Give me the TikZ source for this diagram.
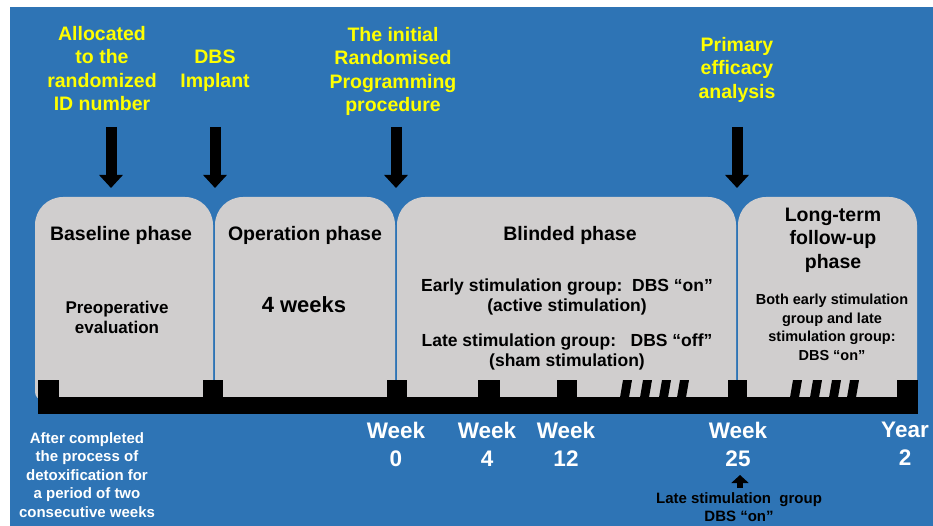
\documentclass[tikz,border=0pt]{standalone}
\usepackage{fontspec}
\setmainfont{Liberation Sans}
\usetikzlibrary{arrows.meta}
\definecolor{bgblue}{RGB}{46,116,181}
\definecolor{boxgray}{RGB}{208,206,206}
\definecolor{ylw}{RGB}{255,255,0}
\begin{document}
\begin{tikzpicture}[x=1pt,y=-1pt,
  ylwtext/.style={text=ylw, font=\fontsize{19.5}{23.5}\selectfont\bfseries, align=center, inner sep=0pt},
  titletext/.style={text=black, font=\fontsize{19.5}{23.5}\selectfont\bfseries, align=center, inner sep=0pt},
  bodytext/.style={text=black, font=\fontsize{17.5}{20}\selectfont\bfseries, align=center, inner sep=0pt},
  smalltext/.style={font=\fontsize{15}{18.5}\selectfont\bfseries, align=center, inner sep=0pt},
  weektext/.style={text=white, font=\fontsize{22.5}{28}\selectfont\bfseries, align=center, inner sep=0pt},
  bigarrow/.style={draw=black, line width=11pt, -{Triangle[width=23pt,length=13pt]}},
  smallarrow/.style={draw=black, line width=6pt, -{Triangle[width=17pt,length=8pt]}},
  phasebox/.style={fill=boxgray},
  tickmark/.style={fill=black}
]
\useasboundingbox (0,0) rectangle (933,526);
\fill[white] (0,0) rectangle (933,526);
\fill[bgblue] (10,7) rectangle (933,526);

% phase boxes (rounded top corners)
\path[phasebox] (43,400) arc[start angle=90,end angle=180,radius=8] -- (35,225)
  arc[start angle=180,end angle=270,radius=28] -- (185,197)
  arc[start angle=270,end angle=360,radius=28] -- (213,400) -- cycle;
\path[phasebox] (215,400) -- (215,225)
  arc[start angle=180,end angle=270,radius=28] -- (367,197)
  arc[start angle=270,end angle=360,radius=28] -- (395,400) -- cycle;
\path[phasebox] (397,400) -- (397,225)
  arc[start angle=180,end angle=270,radius=28] -- (708,197)
  arc[start angle=270,end angle=360,radius=28] -- (736,400) -- cycle;
\path[phasebox] (738,400) -- (738,225)
  arc[start angle=180,end angle=270,radius=28] -- (889,197)
  arc[start angle=270,end angle=360,radius=28] -- (917,400) -- cycle;

% arrow anchor points
\coordinate (a1s) at (111,127); \coordinate (a1e) at (111,188);
\coordinate (a2s) at (215,127); \coordinate (a2e) at (215,188);
\coordinate (a3s) at (396,127); \coordinate (a3e) at (396,188);
\coordinate (a4s) at (737,127); \coordinate (a4e) at (737,188);
\draw[bigarrow] (a1s) -- (a1e);
\draw[bigarrow] (a2s) -- (a2e);
\draw[bigarrow] (a3s) -- (a3e);
\draw[bigarrow] (a4s) -- (a4e);

% timeline bar and ticks
\fill[black] (38,397) rectangle (918,414);
\foreach \xa/\xb in {38/59,203/223,387/407,478/500,557/577,728/747,897/918}
  \fill[tickmark] (\xa,380) rectangle (\xb,397.5);
\foreach \xa in {620,640,659,677,790,810,829,847}
  \fill[tickmark] (\xa,397.5) -- (\xa+9,397.5) -- (\xa+12,380) -- (\xa+3,380) -- cycle;

% yellow labels
\node[ylwtext] (lab1) at (102,68.5) {Allocated\\to the\\randomized\\ID number};
\node[ylwtext] (lab2) at (215,70.5) {DBS\\Implant};
\node[ylwtext] (lab3) at (393,71.5) {The initial\\Randomised\\Programming\\procedure};
\node[ylwtext] (lab4) at (737,69.5) {Primary\\efficacy\\analysis};

% box texts
\node[titletext] (t1) at (121,235) {Baseline phase};
\node[titletext] (t2) at (305,235) {Operation phase};
\node[titletext] (t3) at (570,235) {Blinded phase};
\node[titletext] (t4) at (833,240) {Long-term\\follow-up\\phase};
\node[bodytext, font=\fontsize{17}{20}\selectfont\bfseries] (b1) at (117,317) {Preoperative\\evaluation};
\node[bodytext, font=\fontsize{22}{26}\selectfont\bfseries] (b2) at (304,305) {4 weeks};
\node[bodytext] (b3) at (567,296.5) {Early stimulation group:\ \ DBS “on”\\(active stimulation)};
\node[bodytext] (b4) at (567,351.5) {Late stimulation group:\ \ \ DBS “off”\\(sham stimulation)};
\node[smalltext, text=black, font=\fontsize{14.5}{18.5}\selectfont\bfseries] (b5) at (832,327.5) {Both early stimulation\\group and late\\stimulation group:\\DBS “on”};

% bottom texts
\node[smalltext, text=white] (n1) at (87,475) {After completed\\the process of\\detoxification\ for\\a period of two\\consecutive weeks};
\node[weektext] (w0) at (396,444) {Week\\0};
\node[weektext] (w4) at (487,444) {Week\\4};
\node[weektext] (w12) at (566,444) {Week\\12};
\node[weektext] (w25) at (738,444) {Week\\25};
\node[weektext] (y2) at (905,444) {Year\\2};
\coordinate (ua1) at (740,488); \coordinate (ua2) at (740,475);
\draw[smallarrow] (ua1) -- (ua2);
\node[smalltext, text=black] (n2) at (739,507) {Late stimulation\ \ group\\DBS “on”};
\end{tikzpicture}
\end{document}
